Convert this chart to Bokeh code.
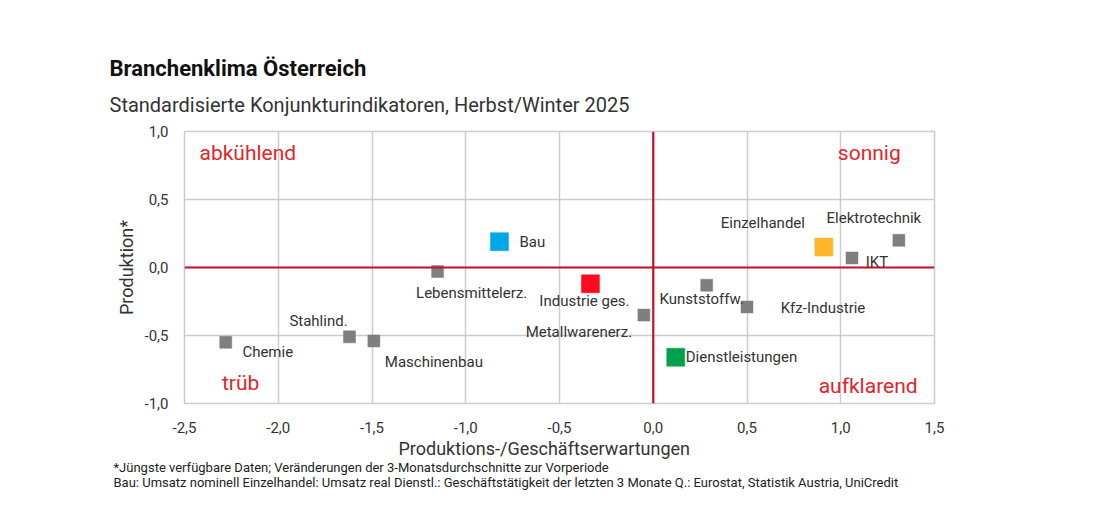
from bokeh.plotting import figure
from bokeh.models import ColumnDataSource, Label, LabelSet, Span, FixedTicker, CustomJSTickFormatter, Range1d, Title
from bokeh.embed import file_html
from bokeh.resources import INLINE
from bokeh.core.properties import value

# ---- data ----
names = ["Bau", "Lebensmittelerz.", "Industrie ges.", "Metallwarenerz.", "Stahlind.",
         "Maschinenbau", "Chemie", "Kunststoffw.", "Kfz-Industrie", "Dienstleistungen",
         "Einzelhandel", "IKT", "Elektrotechnik"]
x_vals = [-0.82, -1.15, -0.335, -0.05, -1.62, -1.49, -2.28, 0.285, 0.50, 0.12, 0.91, 1.06, 1.31]
y_vals = [0.19, -0.03, -0.12, -0.35, -0.51, -0.54, -0.55, -0.13, -0.29, -0.66, 0.15, 0.07, 0.20]
x_ticks = [-2.5, -2.0, -1.5, -1.0, -0.5, 0.0, 0.5, 1.0, 1.5]
y_ticks = [-1.0, -0.5, 0.0, 0.5, 1.0]

# ---- styles ----
GRAY = "#7f7f7f"
colors = ["#00a9e6", GRAY, "#ff0a1e", GRAY, GRAY, GRAY, GRAY, GRAY, GRAY, "#00a14b", "#fdb52a", GRAY, GRAY]
sizes = [18, 12, 18, 12, 12, 12, 12, 12, 12, 18, 18, 12, 12]
lx_off = [20, 34, -6, -65, -31, 60, 42, -5, 76, 10, -61, 25, -25]
ly_off = [0, -21, -17, -17, 16, -21, -10, -14, -1, 0, 24, -4, 22]
align = ["left", "center", "center", "center", "center", "center", "center", "center", "center",
         "left", "center", "center", "center"]

FONT = "Roboto"
TXT = "#333333"
RED_LINE = "#c8102e"
RED_TXT = "#e1242b"

src = ColumnDataSource(dict(x=x_vals, y=y_vals, name=names, color=colors, size=sizes,
                            xo=lx_off, yo=ly_off, al=align))

W, H = 1090, 500
p = figure(width=W, height=H, output_backend="svg", toolbar_location=None,
           x_range=Range1d(-2.5, 1.5), y_range=Range1d(-1.0, 1.0),
           min_border_left=184, min_border_right=W - 934, min_border_top=131, min_border_bottom=H - 403)
p.background_fill_color = "white"
p.border_fill_color = "white"
p.outline_line_color = "#cccccc"
p.outline_line_width = 1.5

for ax in (p.xaxis[0], p.yaxis[0]):
    ax.axis_line_color = None
    ax.major_tick_line_color = None
    ax.minor_tick_line_color = None
    ax.major_label_text_font = FONT
    ax.major_label_text_font_size = "15px"
    ax.major_label_text_color = TXT
    ax.axis_label_text_font = FONT
    ax.axis_label_text_font_size = "18px"
    ax.axis_label_text_font_style = "normal"
    ax.axis_label_text_color = TXT
    ax.formatter = CustomJSTickFormatter(code="return tick.toFixed(1).replace('.', ',');")

p.xaxis.ticker = FixedTicker(ticks=x_ticks)
p.yaxis.ticker = FixedTicker(ticks=y_ticks)
p.yaxis.axis_label = "Produktion*"
p.xaxis.major_label_standoff = 12
p.yaxis.major_label_standoff = 10
p.yaxis.axis_label_standoff = 5

p.xgrid.grid_line_color = "#cccccc"
p.ygrid.grid_line_color = "#cccccc"
p.xgrid.grid_line_width = 1.5
p.ygrid.grid_line_width = 1.5

p.add_layout(Span(location=0, dimension="width", line_color=RED_LINE, line_width=2.2))
p.add_layout(Span(location=0, dimension="height", line_color=RED_LINE, line_width=2.2))

p.scatter("x", "y", source=src, marker="square", size="size", fill_color="color",
          line_color="color", line_width=0.5)

p.add_layout(LabelSet(x="x", y="y", text="name", source=src, x_offset="xo", y_offset="yo",
                      text_align="al", text_baseline="middle", text_font=value(FONT),
                      text_font_size="15px", text_color=TXT))

# quadrant labels
for txt, xx, yy, al in [("abkühlend", -2.42, 0.84, "left"), ("sonnig", 1.32, 0.84, "right"),
                        ("trüb", -2.30, -0.85, "left"), ("aufklarend", 1.41, -0.87, "right")]:
    p.add_layout(Label(x=xx, y=yy, text=txt, text_align=al, text_baseline="middle",
                       text_font=FONT, text_font_size="21px", text_color=RED_TXT))

# titles above (first added sits closest to the frame)
p.add_layout(Title(text="Standardisierte Konjunkturindikatoren, Herbst/Winter 2025", align="left",
                   vertical_align="top", offset=-75, standoff=25, text_font=FONT, text_font_size="20px",
                   text_font_style="normal", text_color=TXT), "above")
p.add_layout(Title(text="Branchenklima Österreich", align="left", vertical_align="bottom",
                   offset=-75, standoff=0,
                   text_font=FONT, text_font_size="22px", text_font_style="bold",
                   text_color="#111111"), "above")

# x axis label and notes below
p.add_layout(Title(text="Produktions-/Geschäftserwartungen", align="left", offset=214, standoff=0,
                   text_font=FONT, text_font_size="18px", text_font_style="normal",
                   text_color=TXT), "below")
p.add_layout(Title(text="*Jüngste verfügbare Daten; Veränderungen der 3-Monatsdurchschnitte zur Vorperiode\n"
                        "Bau: Umsatz nominell  Einzelhandel: Umsatz real   Dienstl.: Geschäftstätigkeit der letzten 3 Monate   Q.: Eurostat, Statistik Austria, UniCredit",
                   align="left", offset=-71, standoff=0, text_font=FONT, text_font_size="13px",
                   text_line_height=0.95,
                   text_font_style="normal", text_color="#222222"), "below")

open("out.html", "w").write(file_html(p, INLINE))
